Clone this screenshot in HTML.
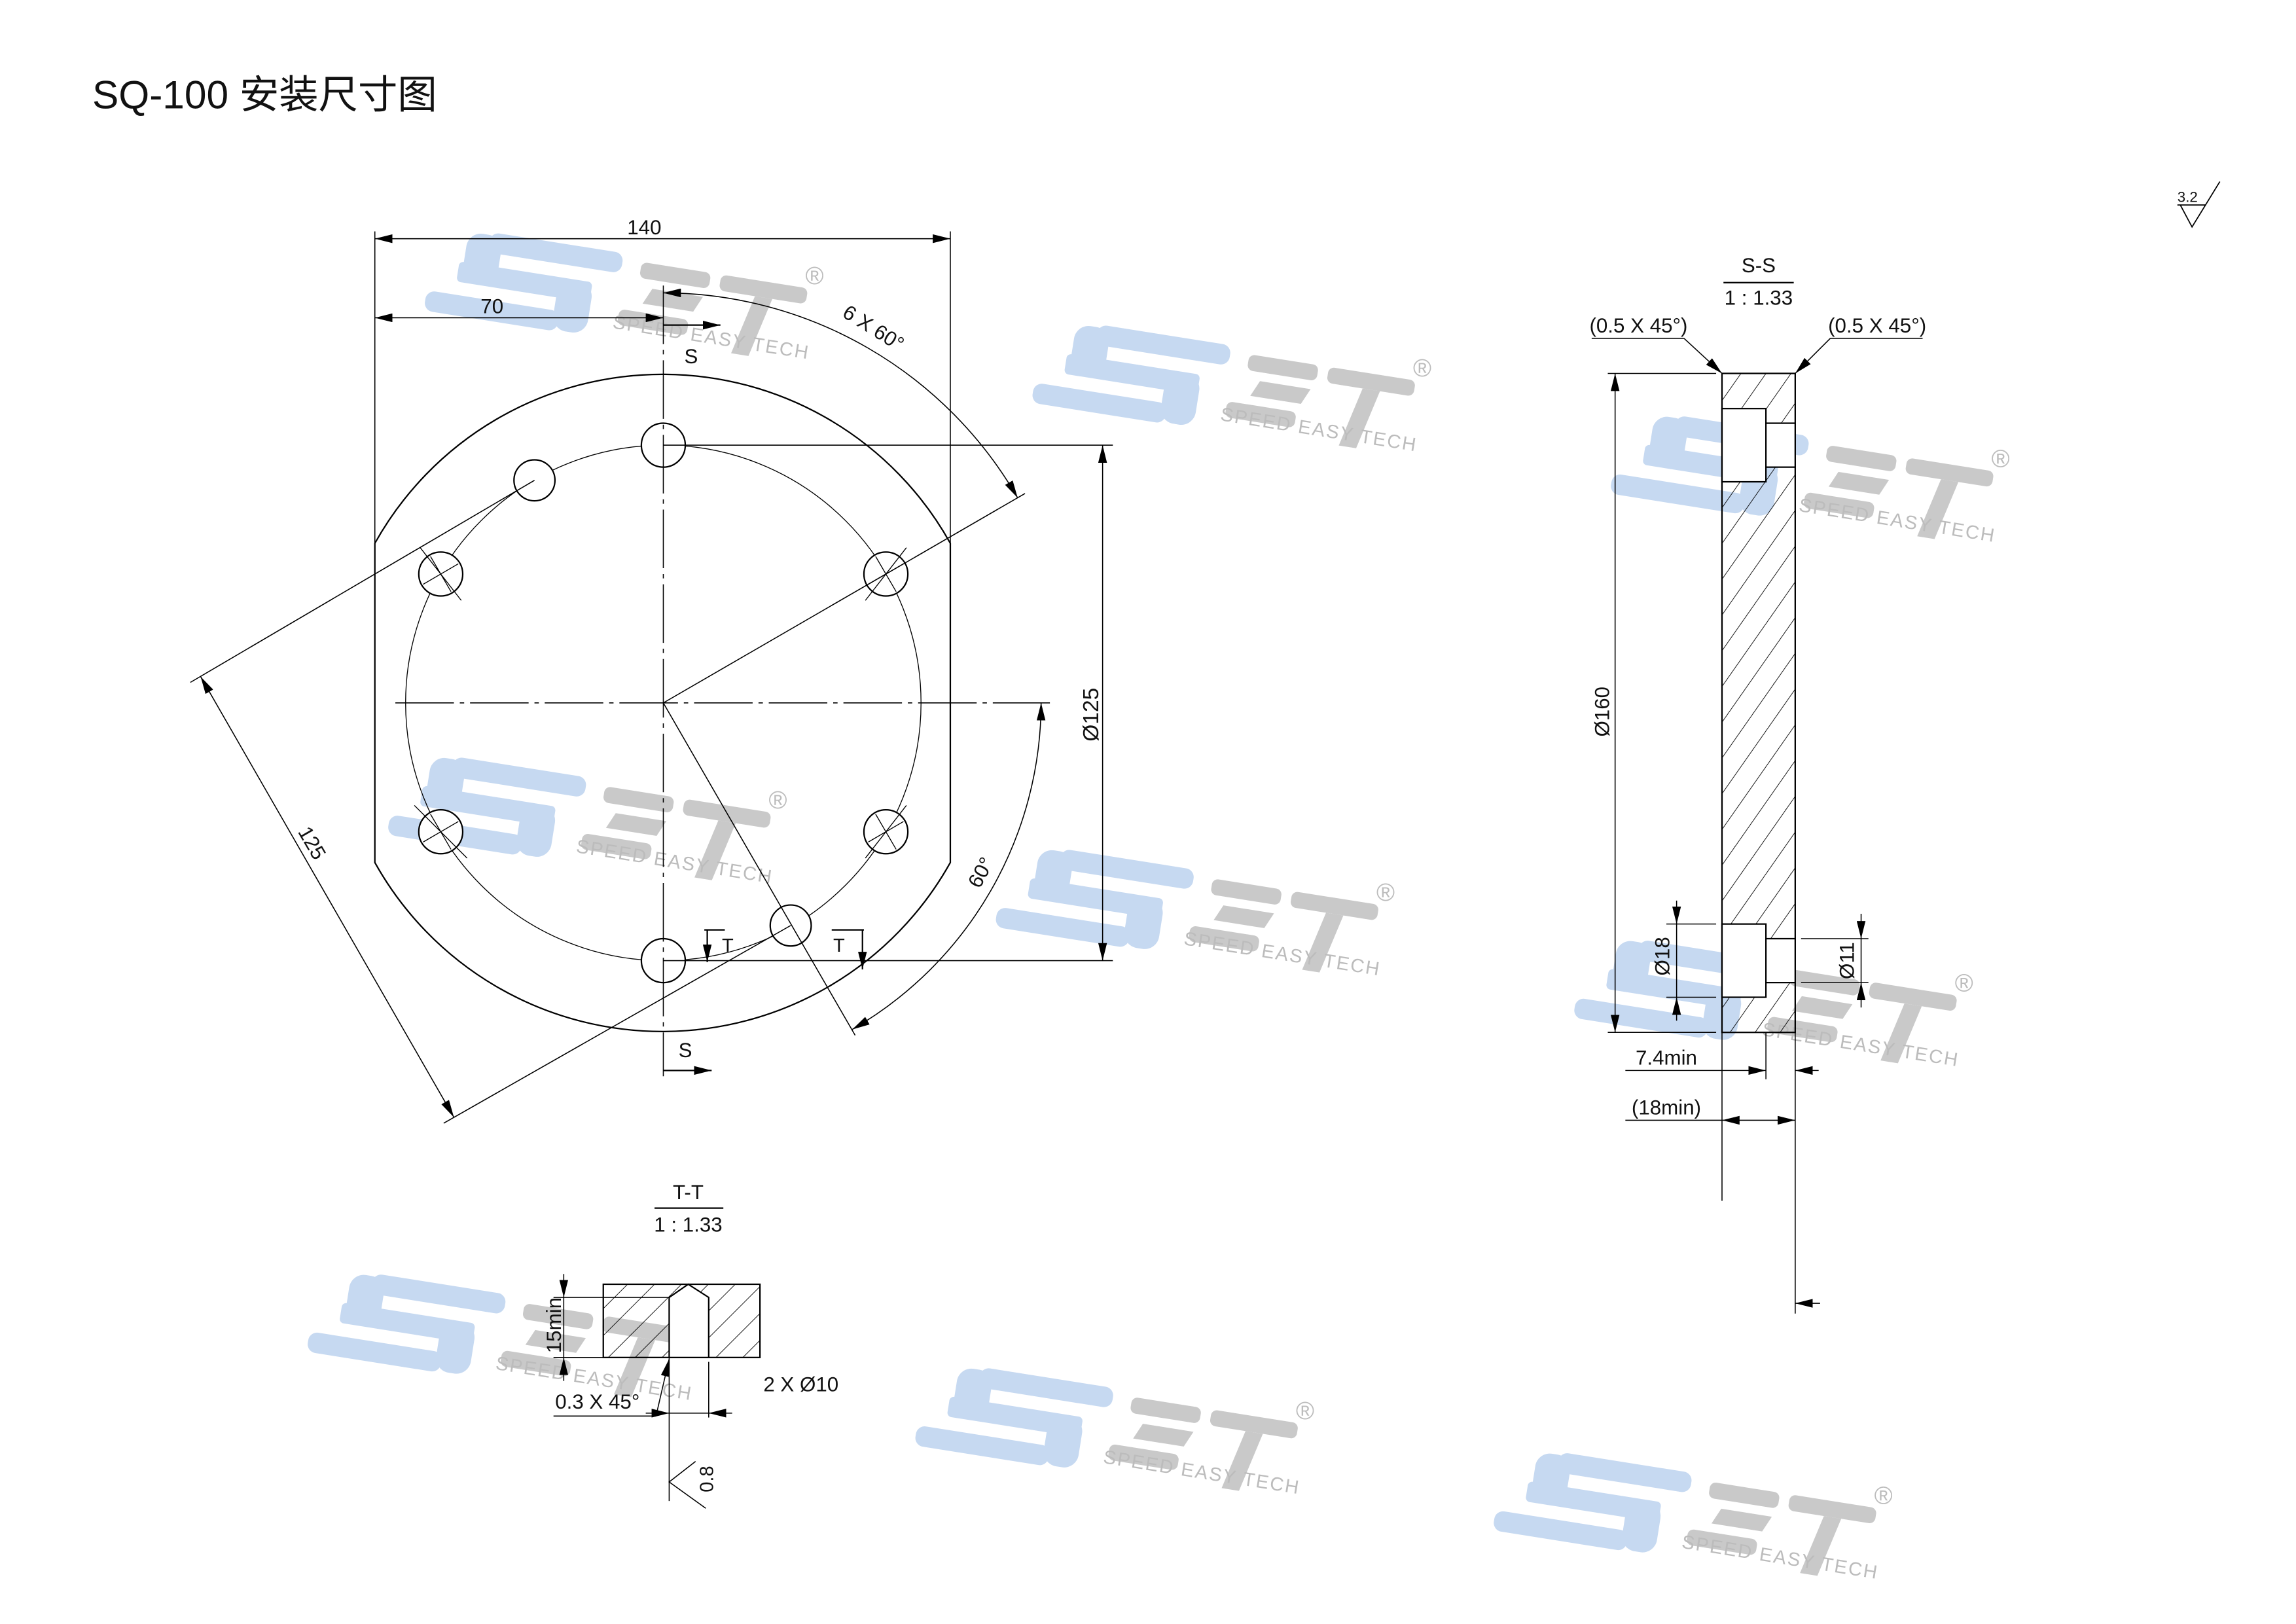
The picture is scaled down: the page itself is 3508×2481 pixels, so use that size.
<!DOCTYPE html>
<html><head><meta charset="utf-8"><style>
html,body{margin:0;padding:0;background:#fff;}
svg{display:block;}
text{font-family:"Liberation Sans","Noto Sans CJK SC",sans-serif;fill:#111;}
.wt{fill:#bcbcbc;font-family:"Liberation Sans",sans-serif;}
</style></head><body>
<svg width="3508" height="2481" viewBox="0 0 1568 1109" preserveAspectRatio="none" xmlns="http://www.w3.org/2000/svg">
<defs>
<marker id="a" viewBox="0 0 12 6" refX="12" refY="3" markerWidth="12" markerHeight="6" markerUnits="userSpaceOnUse" orient="auto-start-reverse"><path d="M0,0 L12,3 L0,6 Z" fill="#000"/></marker>
<pattern id="h" width="14" height="14" patternUnits="userSpaceOnUse" patternTransform="rotate(35)"><line x1="0" y1="0" x2="0" y2="14" stroke="#000" stroke-width="0.8"/></pattern>
<pattern id="h2" width="13" height="13" patternUnits="userSpaceOnUse" patternTransform="rotate(45)"><line x1="0" y1="0" x2="0" y2="13" stroke="#000" stroke-width="0.8"/></pattern>
</defs>
<rect width="1568" height="1109" fill="#fff"/>

<!-- watermarks -->
<g transform="translate(0,0)"><g transform="translate(300,157)"><g transform="rotate(9)"><g fill="#c6d9f1"><rect x="35" y="-4" width="92" height="14" rx="6"/><rect x="17" y="19" width="92" height="14" rx="3"/><rect x="-2" y="42" width="92" height="14" rx="6"/><rect x="20" y="-2" width="24" height="34" rx="10"/><rect x="86" y="20" width="24" height="35" rx="10"/></g><g fill="#c9c9c9"><rect x="140" y="0" width="48" height="11" rx="4"/><polygon points="150,17 185,17 180,28 145,28"/><rect x="130" y="34" width="48" height="11" rx="4"/><rect x="195" y="0" width="60" height="11" rx="4"/><polygon points="220,11 232,11 222,52 210,52"/></g></g><text x="250" y="37" class="wt" font-size="17">®</text><text transform="translate(118,67) rotate(9)" class="wt" font-size="13" letter-spacing="1">SPEED  EASY  TECH</text></g></g>
<g transform="translate(415,63)"><g transform="translate(300,157)"><g transform="rotate(9)"><g fill="#c6d9f1"><rect x="35" y="-4" width="92" height="14" rx="6"/><rect x="17" y="19" width="92" height="14" rx="3"/><rect x="-2" y="42" width="92" height="14" rx="6"/><rect x="20" y="-2" width="24" height="34" rx="10"/><rect x="86" y="20" width="24" height="35" rx="10"/></g><g fill="#c9c9c9"><rect x="140" y="0" width="48" height="11" rx="4"/><polygon points="150,17 185,17 180,28 145,28"/><rect x="130" y="34" width="48" height="11" rx="4"/><rect x="195" y="0" width="60" height="11" rx="4"/><polygon points="220,11 232,11 222,52 210,52"/></g></g><text x="250" y="37" class="wt" font-size="17">®</text><text transform="translate(118,67) rotate(9)" class="wt" font-size="13" letter-spacing="1">SPEED  EASY  TECH</text></g></g>
<g transform="translate(810,125)"><g transform="translate(300,157)"><g transform="rotate(9)"><g fill="#c6d9f1"><rect x="35" y="-4" width="92" height="14" rx="6"/><rect x="17" y="19" width="92" height="14" rx="3"/><rect x="-2" y="42" width="92" height="14" rx="6"/><rect x="20" y="-2" width="24" height="34" rx="10"/><rect x="86" y="20" width="24" height="35" rx="10"/></g><g fill="#c9c9c9"><rect x="140" y="0" width="48" height="11" rx="4"/><polygon points="150,17 185,17 180,28 145,28"/><rect x="130" y="34" width="48" height="11" rx="4"/><rect x="195" y="0" width="60" height="11" rx="4"/><polygon points="220,11 232,11 222,52 210,52"/></g></g><text x="250" y="37" class="wt" font-size="17">®</text><text transform="translate(118,67) rotate(9)" class="wt" font-size="13" letter-spacing="1">SPEED  EASY  TECH</text></g></g>
<g transform="translate(-25,358)"><g transform="translate(300,157)"><g transform="rotate(9)"><g fill="#c6d9f1"><rect x="35" y="-4" width="92" height="14" rx="6"/><rect x="17" y="19" width="92" height="14" rx="3"/><rect x="-2" y="42" width="92" height="14" rx="6"/><rect x="20" y="-2" width="24" height="34" rx="10"/><rect x="86" y="20" width="24" height="35" rx="10"/></g><g fill="#c9c9c9"><rect x="140" y="0" width="48" height="11" rx="4"/><polygon points="150,17 185,17 180,28 145,28"/><rect x="130" y="34" width="48" height="11" rx="4"/><rect x="195" y="0" width="60" height="11" rx="4"/><polygon points="220,11 232,11 222,52 210,52"/></g></g><text x="250" y="37" class="wt" font-size="17">®</text><text transform="translate(118,67) rotate(9)" class="wt" font-size="13" letter-spacing="1">SPEED  EASY  TECH</text></g></g>
<g transform="translate(390,421)"><g transform="translate(300,157)"><g transform="rotate(9)"><g fill="#c6d9f1"><rect x="35" y="-4" width="92" height="14" rx="6"/><rect x="17" y="19" width="92" height="14" rx="3"/><rect x="-2" y="42" width="92" height="14" rx="6"/><rect x="20" y="-2" width="24" height="34" rx="10"/><rect x="86" y="20" width="24" height="35" rx="10"/></g><g fill="#c9c9c9"><rect x="140" y="0" width="48" height="11" rx="4"/><polygon points="150,17 185,17 180,28 145,28"/><rect x="130" y="34" width="48" height="11" rx="4"/><rect x="195" y="0" width="60" height="11" rx="4"/><polygon points="220,11 232,11 222,52 210,52"/></g></g><text x="250" y="37" class="wt" font-size="17">®</text><text transform="translate(118,67) rotate(9)" class="wt" font-size="13" letter-spacing="1">SPEED  EASY  TECH</text></g></g>
<g transform="translate(785,483)"><g transform="translate(300,157)"><g transform="rotate(9)"><g fill="#c6d9f1"><rect x="35" y="-4" width="92" height="14" rx="6"/><rect x="17" y="19" width="92" height="14" rx="3"/><rect x="-2" y="42" width="92" height="14" rx="6"/><rect x="20" y="-2" width="24" height="34" rx="10"/><rect x="86" y="20" width="24" height="35" rx="10"/></g><g fill="#c9c9c9"><rect x="140" y="0" width="48" height="11" rx="4"/><polygon points="150,17 185,17 180,28 145,28"/><rect x="130" y="34" width="48" height="11" rx="4"/><rect x="195" y="0" width="60" height="11" rx="4"/><polygon points="220,11 232,11 222,52 210,52"/></g></g><text x="250" y="37" class="wt" font-size="17">®</text><text transform="translate(118,67) rotate(9)" class="wt" font-size="13" letter-spacing="1">SPEED  EASY  TECH</text></g></g>
<g transform="translate(-80,711)"><g transform="translate(300,157)"><g transform="rotate(9)"><g fill="#c6d9f1"><rect x="35" y="-4" width="92" height="14" rx="6"/><rect x="17" y="19" width="92" height="14" rx="3"/><rect x="-2" y="42" width="92" height="14" rx="6"/><rect x="20" y="-2" width="24" height="34" rx="10"/><rect x="86" y="20" width="24" height="35" rx="10"/></g><g fill="#c9c9c9"><rect x="140" y="0" width="48" height="11" rx="4"/><polygon points="150,17 185,17 180,28 145,28"/><rect x="130" y="34" width="48" height="11" rx="4"/><rect x="195" y="0" width="60" height="11" rx="4"/><polygon points="220,11 232,11 222,52 210,52"/></g></g><text x="250" y="37" class="wt" font-size="17">®</text><text transform="translate(118,67) rotate(9)" class="wt" font-size="13" letter-spacing="1">SPEED  EASY  TECH</text></g></g>
<g transform="translate(335,775)"><g transform="translate(300,157)"><g transform="rotate(9)"><g fill="#c6d9f1"><rect x="35" y="-4" width="92" height="14" rx="6"/><rect x="17" y="19" width="92" height="14" rx="3"/><rect x="-2" y="42" width="92" height="14" rx="6"/><rect x="20" y="-2" width="24" height="34" rx="10"/><rect x="86" y="20" width="24" height="35" rx="10"/></g><g fill="#c9c9c9"><rect x="140" y="0" width="48" height="11" rx="4"/><polygon points="150,17 185,17 180,28 145,28"/><rect x="130" y="34" width="48" height="11" rx="4"/><rect x="195" y="0" width="60" height="11" rx="4"/><polygon points="220,11 232,11 222,52 210,52"/></g></g><text x="250" y="37" class="wt" font-size="17">®</text><text transform="translate(118,67) rotate(9)" class="wt" font-size="13" letter-spacing="1">SPEED  EASY  TECH</text></g></g>
<g transform="translate(730,833)"><g transform="translate(300,157)"><g transform="rotate(9)"><g fill="#c6d9f1"><rect x="35" y="-4" width="92" height="14" rx="6"/><rect x="17" y="19" width="92" height="14" rx="3"/><rect x="-2" y="42" width="92" height="14" rx="6"/><rect x="20" y="-2" width="24" height="34" rx="10"/><rect x="86" y="20" width="24" height="35" rx="10"/></g><g fill="#c9c9c9"><rect x="140" y="0" width="48" height="11" rx="4"/><polygon points="150,17 185,17 180,28 145,28"/><rect x="130" y="34" width="48" height="11" rx="4"/><rect x="195" y="0" width="60" height="11" rx="4"/><polygon points="220,11 232,11 222,52 210,52"/></g></g><text x="250" y="37" class="wt" font-size="17">®</text><text transform="translate(118,67) rotate(9)" class="wt" font-size="13" letter-spacing="1">SPEED  EASY  TECH</text></g></g>

<!-- title -->
<text x="63" y="74" font-size="27" font-family="'Liberation Sans','Noto Sans CJK SC',sans-serif">SQ-100 安装尺寸图</text>

<!-- roughness top right -->
<text x="1487" y="138" font-size="10" font-family="'Liberation Serif',serif">3.2</text>
<path d="M1487,140 H1506 M1489,140 L1497,155 L1516,124" stroke="#000" stroke-width="0.8" fill="none"/>

<!-- MAIN VIEW -->
<g fill="none" stroke="#000" stroke-width="0.7">
<path d="M256,371 A225,225 0 0 1 649,371 V589 A225,225 0 0 1 256,589 Z" stroke-width="1"/>
<circle cx="453" cy="480" r="176" stroke-width="0.6"/>
<g stroke-width="1">
<circle cx="453" cy="304" r="15" fill="#fff"/>
<circle cx="453" cy="656" r="15" fill="#fff"/>
<circle cx="605" cy="392" r="15" fill="#fff"/>
<circle cx="605" cy="568" r="15" fill="#fff"/>
<circle cx="301" cy="392" r="15" fill="#fff"/>
<circle cx="301" cy="568" r="15" fill="#fff"/>
<circle cx="365" cy="328" r="14" fill="#fff"/>
<circle cx="540" cy="632" r="14" fill="#fff"/>
</g>
<path d="M294,380 L308,404 M289,399 L313,385 M294,556 L308,580 M289,575 L313,561 M598,380 L612,404 M593,399 L617,385 M598,556 L612,580 M593,575 L617,561 M287,374 L315,410 M283,550 L319,586 M591,410 L619,374 M591,586 L619,550" stroke-width="0.6"/>
<line x1="270" y1="480" x2="717" y2="480" stroke-dasharray="40,4,3,4"/>
<line x1="453" y1="195" x2="453" y2="735" stroke-dasharray="40,4,3,4"/>
<line x1="256" y1="158" x2="256" y2="371"/>
<line x1="649" y1="158" x2="649" y2="371"/>
<line x1="453" y1="304" x2="760" y2="304"/>
<line x1="453" y1="656" x2="760" y2="656"/>
<line x1="365" y1="328" x2="130" y2="466"/>
<line x1="540" y1="632" x2="303" y2="767"/>
<line x1="453" y1="480" x2="700" y2="337"/>
<line x1="453" y1="480" x2="584" y2="707"/>
<line x1="256" y1="163" x2="649" y2="163" marker-start="url(#a)" marker-end="url(#a)"/>
<line x1="256" y1="217" x2="453" y2="217" marker-start="url(#a)" marker-end="url(#a)"/>
<line x1="753" y1="304" x2="753" y2="656" marker-start="url(#a)" marker-end="url(#a)"/>
<line x1="137" y1="462" x2="310" y2="763" marker-start="url(#a)" marker-end="url(#a)"/>
<path d="M453,200 A280,280 0 0 1 695,340" marker-start="url(#a)" marker-end="url(#a)"/>
<path d="M711,480 A258,258 0 0 1 582,703" marker-start="url(#a)" marker-end="url(#a)"/>
<line x1="453" y1="222" x2="492" y2="222" marker-end="url(#a)" stroke-width="1"/>
<line x1="453" y1="731" x2="486" y2="731" marker-end="url(#a)" stroke-width="1"/>
<path d="M481,635 H495 M568,635 H590" stroke-width="1"/>
<line x1="483" y1="635" x2="483" y2="657" marker-end="url(#a)" stroke-width="1"/>
<line x1="589" y1="635" x2="589" y2="662" marker-end="url(#a)" stroke-width="1"/>
</g>
<text x="440" y="160" font-size="14" text-anchor="middle">140</text>
<text x="336" y="214" font-size="14" text-anchor="middle">70</text>
<text x="472" y="248" font-size="14" text-anchor="middle">S</text>
<text x="468" y="722" font-size="14" text-anchor="middle">S</text>
<text x="497" y="650" font-size="13" text-anchor="middle">T</text>
<text x="573" y="650" font-size="13" text-anchor="middle">T</text>
<text transform="translate(594,228) rotate(32)" font-size="14" text-anchor="middle">6 X 60°</text>
<text transform="translate(674,598) rotate(-62)" font-size="14" text-anchor="middle">60°</text>
<text transform="translate(209,578) rotate(60)" font-size="14" text-anchor="middle">125</text>
<text transform="translate(750,488) rotate(-90)" font-size="15" text-anchor="middle">Ø125</text>

<!-- S-S SECTION -->
<text x="1201" y="186" font-size="14" text-anchor="middle">S-S</text>
<line x1="1177" y1="193" x2="1225" y2="193" stroke="#000" stroke-width="1"/>
<text x="1201" y="208" font-size="14" text-anchor="middle">1 : 1.33</text>
<text x="1119" y="227" font-size="14" text-anchor="middle">(0.5 X 45°)</text>
<text x="1282" y="227" font-size="14" text-anchor="middle">(0.5 X 45°)</text>
<g fill="none" stroke="#000" stroke-width="0.7">
<line x1="1087" y1="231" x2="1150" y2="231"/>
<line x1="1150" y1="231" x2="1176" y2="255" marker-end="url(#a)"/>
<line x1="1250" y1="231" x2="1313" y2="231"/>
<line x1="1250" y1="231" x2="1226" y2="255" marker-end="url(#a)"/>
<rect x="1176" y="255" width="50" height="450" fill="url(#h)" stroke-width="1"/>
<rect x="1176" y="279" width="30" height="50" fill="#fff" stroke-width="1"/>
<rect x="1206" y="289" width="20" height="30" fill="#fff" stroke-width="1"/>
<rect x="1176" y="631" width="30" height="50" fill="#fff" stroke-width="1"/>
<rect x="1206" y="641" width="20" height="30" fill="#fff" stroke-width="1"/>
<line x1="1098" y1="255" x2="1172" y2="255"/>
<line x1="1098" y1="705" x2="1172" y2="705"/>
<line x1="1103" y1="255" x2="1103" y2="705" marker-start="url(#a)" marker-end="url(#a)"/>
<line x1="1138" y1="631" x2="1172" y2="631"/>
<line x1="1138" y1="681" x2="1172" y2="681"/>
<line x1="1145" y1="615" x2="1145" y2="631" marker-end="url(#a)"/>
<line x1="1145" y1="697" x2="1145" y2="681" marker-end="url(#a)"/>
<line x1="1145" y1="631" x2="1145" y2="681"/>
<line x1="1230" y1="641" x2="1276" y2="641"/>
<line x1="1230" y1="671" x2="1276" y2="671"/>
<line x1="1271" y1="624" x2="1271" y2="641" marker-end="url(#a)"/>
<line x1="1271" y1="688" x2="1271" y2="671" marker-end="url(#a)"/>
<line x1="1271" y1="641" x2="1271" y2="671"/>
<line x1="1176" y1="705" x2="1176" y2="820"/>
<line x1="1226" y1="705" x2="1226" y2="897"/>
<line x1="1206" y1="705" x2="1206" y2="737"/>
<line x1="1110" y1="731" x2="1206" y2="731" marker-end="url(#a)"/>
<line x1="1242" y1="731" x2="1226" y2="731" marker-end="url(#a)"/>
<line x1="1110" y1="765" x2="1176" y2="765"/>
<line x1="1176" y1="765" x2="1226" y2="765" marker-start="url(#a)" marker-end="url(#a)"/>
<line x1="1243" y1="890" x2="1226" y2="890" marker-end="url(#a)"/>
</g>
<text transform="translate(1099,486) rotate(-90)" font-size="14" text-anchor="middle">Ø160</text>
<text transform="translate(1140,653) rotate(-90)" font-size="14" text-anchor="middle">Ø18</text>
<text transform="translate(1266,656) rotate(-90)" font-size="14" text-anchor="middle">Ø11</text>
<text x="1138" y="727" font-size="14" text-anchor="middle">7.4min</text>
<text x="1138" y="761" font-size="14" text-anchor="middle">(18min)</text>

<!-- T-T SECTION -->
<text x="470" y="819" font-size="14" text-anchor="middle">T-T</text>
<line x1="447" y1="825" x2="494" y2="825" stroke="#000" stroke-width="1"/>
<text x="470" y="841" font-size="14" text-anchor="middle">1 : 1.33</text>
<g fill="none" stroke="#000" stroke-width="0.7">
<rect x="412" y="877" width="107" height="50" fill="url(#h2)" stroke-width="1"/>
<path d="M457,927 V886 L470,877 L484,886 V927 Z" fill="#fff" stroke-width="1"/>
<line x1="378" y1="886" x2="457" y2="886"/>
<line x1="378" y1="927" x2="412" y2="927"/>
<line x1="385" y1="870" x2="385" y2="886" marker-end="url(#a)"/>
<line x1="385" y1="943" x2="385" y2="927" marker-end="url(#a)"/>
<line x1="385" y1="886" x2="385" y2="927"/>
<line x1="457" y1="927" x2="457" y2="1025"/>
<line x1="484" y1="930" x2="484" y2="968"/>
<line x1="441" y1="965" x2="457" y2="965" marker-end="url(#a)"/>
<line x1="500" y1="965" x2="484" y2="965" marker-end="url(#a)"/>
<line x1="457" y1="965" x2="484" y2="965"/>
<path d="M378,967 H448"/>
<line x1="448" y1="967" x2="457" y2="928" marker-end="url(#a)"/>
<path d="M475,998 L457,1012 L482,1030"/>
</g>
<text transform="translate(383,905) rotate(-90)" font-size="14" text-anchor="middle">15min</text>
<text x="408" y="962" font-size="14" text-anchor="middle">0.3 X 45°</text>
<text x="547" y="950" font-size="14" text-anchor="middle">2 X Ø10</text>
<text transform="translate(487,1010) rotate(-90)" font-size="13" text-anchor="middle">0.8</text>
</svg>
</body></html>
